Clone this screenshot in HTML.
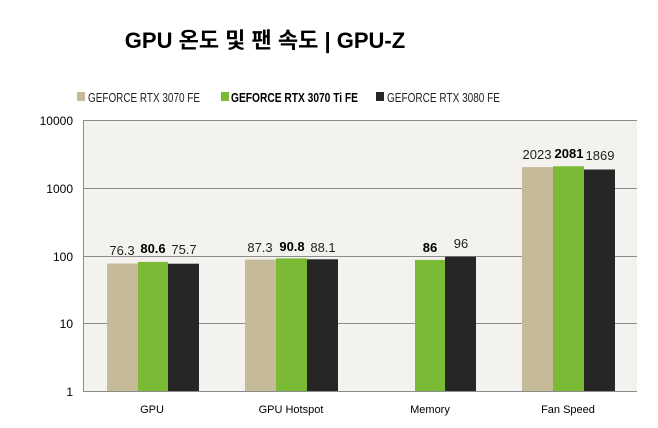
<!DOCTYPE html>
<html><head><meta charset="utf-8"><style>
body{margin:0;background:#fff;}
svg{display:block;font-family:"Liberation Sans","Noto Sans CJK KR",sans-serif;}
</style></head><body>
<svg width="658" height="428" viewBox="0 0 658 428">
<text x="265" y="48" text-anchor="middle" font-size="22" font-weight="bold" fill="#000">GPU 온도 및 팬 속도 | GPU-Z</text>
<rect x="77" y="92" width="8" height="9" fill="#c5bb98"/>
<text x="88" y="102" font-size="13" fill="#222" textLength="112" lengthAdjust="spacingAndGlyphs">GEFORCE RTX 3070 FE</text>
<rect x="221" y="92" width="8" height="9" fill="#7aba34"/>
<text x="231" y="102" font-size="13" font-weight="bold" fill="#000" textLength="127" lengthAdjust="spacingAndGlyphs">GEFORCE RTX 3070 Ti FE</text>
<rect x="376" y="92" width="8" height="9" fill="#262626"/>
<text x="387" y="102" font-size="13" fill="#222" textLength="113" lengthAdjust="spacingAndGlyphs">GEFORCE RTX 3080 FE</text>
<rect x="83" y="120" width="554" height="271" fill="#f3f2ee"/>
<g stroke="#8c8c8c" stroke-width="1">
<line x1="83" y1="120.5" x2="637" y2="120.5"/>
<line x1="83" y1="188.5" x2="637" y2="188.5"/>
<line x1="83" y1="256.5" x2="637" y2="256.5"/>
<line x1="83" y1="323.5" x2="637" y2="323.5"/>
<line x1="83" y1="391.5" x2="637" y2="391.5"/>
<line x1="83.5" y1="120" x2="83.5" y2="391"/>
</g>
<g font-size="12" fill="#000" text-anchor="end">
<text x="73" y="125">10000</text><text x="73" y="193">1000</text><text x="73" y="261">100</text><text x="73" y="328">10</text><text x="73" y="396">1</text>
</g>
<g>
<rect x="107" y="263.5" width="31" height="127.5" fill="#c5bb98"/>
<rect x="138" y="261.9" width="30" height="129.1" fill="#7aba34"/>
<rect x="168" y="263.7" width="31" height="127.3" fill="#262626"/>
<rect x="245" y="259.6" width="31" height="131.4" fill="#c5bb98"/>
<rect x="276" y="258.4" width="31" height="132.6" fill="#7aba34"/>
<rect x="307" y="259.3" width="31" height="131.7" fill="#262626"/>
<rect x="415" y="259.9" width="30" height="131.1" fill="#7aba34"/>
<rect x="445" y="256.7" width="31" height="134.3" fill="#262626"/>
<rect x="522" y="167.1" width="31" height="223.9" fill="#c5bb98"/>
<rect x="553" y="166.3" width="31" height="224.7" fill="#7aba34"/>
<rect x="584" y="169.5" width="31" height="221.5" fill="#262626"/>
</g>
<g font-size="13" fill="#222" text-anchor="middle">
<text x="122" y="255">76.3</text><text x="153" y="253" font-weight="bold" fill="#000">80.6</text><text x="184" y="254">75.7</text>
<text x="260" y="252">87.3</text><text x="292" y="251" font-weight="bold" fill="#000">90.8</text><text x="323" y="252">88.1</text>
<text x="430" y="252" font-weight="bold" fill="#000">86</text><text x="461" y="248">96</text>
<text x="537" y="159">2023</text><text x="569" y="158" font-weight="bold" fill="#000">2081</text><text x="600" y="160">1869</text>
</g>
<g font-size="11" fill="#000" text-anchor="middle">
<text x="152" y="413">GPU</text><text x="291" y="413">GPU Hotspot</text><text x="430" y="413">Memory</text><text x="568" y="413">Fan Speed</text>
</g>
</svg>
</body></html>
